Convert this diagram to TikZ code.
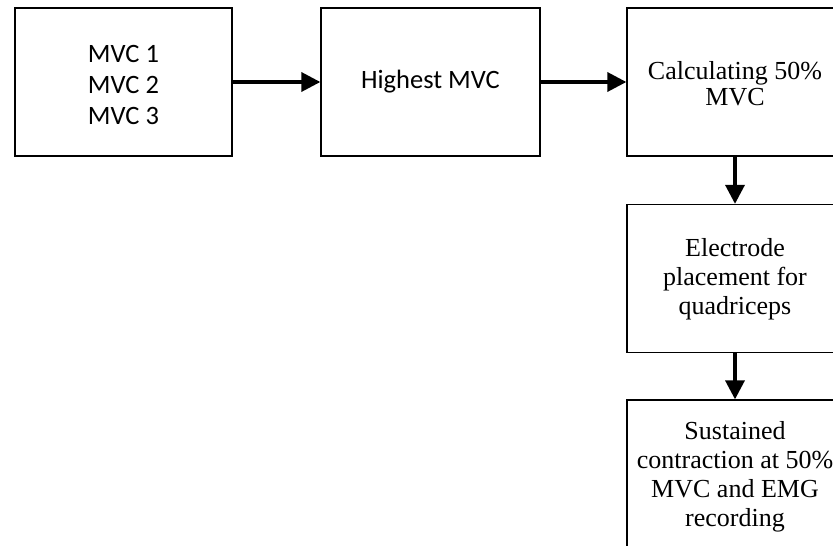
\documentclass[tikz,border=0pt]{standalone}
\usepackage{fontspec}
\setmainfont{Liberation Serif}
\newfontfamily\calibri{Carlito}
\usetikzlibrary{arrows.meta}
\begin{document}
\begin{tikzpicture}[x=1pt,y=-1pt,
  box/.style={draw, line width=1.3pt, minimum width=217pt, minimum height=148pt, inner sep=0pt},
  serif/.style={font=\fontsize{26}{29}\selectfont, align=center},
  sans/.style={font=\calibri\fontsize{26.5}{31}\selectfont, align=center},
  flow/.style={line width=3.5pt, -{Triangle[length=19pt,width=19pt]}}]
\useasboundingbox (0,0) rectangle (833,546);
\clip (0,0) rectangle (833,546);
\node[box]  (b1) at (123.5,82) {};
\node[sans] at (123.5,84.5) {MVC 1\\MVC 2\\MVC 3};
\node[box, minimum width=219pt]  (b2) at (430.5,82) {};
\node[sans] at (430.5,82) {Highest MVC};
\node[box, minimum width=216pt] (b3) at (735,82) {};
\node[serif, font=\fontsize{26}{26}\selectfont] at (735,84) {Calculating 50\%\\MVC};
\node[box, minimum width=216pt] (b4) at (735,278.5) {};
\node[serif] at (735,279) {Electrode\\placement for\\quadriceps};
\node[box, minimum width=216pt] (b5) at (735,474) {};
\node[serif] at (735,477) {Sustained\\contraction at 50\%\\MVC and EMG\\recording};
\draw[flow] (b1.east) -- (b2.west);
\draw[flow] (b2.east) -- (b3.west);
\draw[flow] (b3.south) -- (b4.north);
\draw[flow] (b4.south) -- (b5.north);
\end{tikzpicture}
\end{document}
